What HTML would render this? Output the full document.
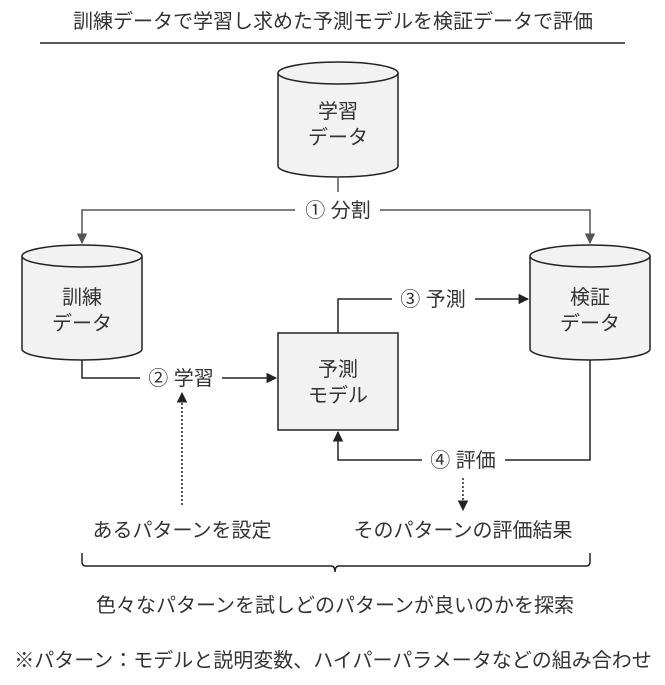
<!DOCTYPE html>
<html><head><meta charset="utf-8"><style>
html,body{margin:0;padding:0;background:#fff;}
svg{display:block;}
text{font-family:"Liberation Sans","Noto Sans CJK JP",sans-serif;fill:#333;}
</style></head><body>
<svg width="665" height="685" viewBox="0 0 665 685" xmlns="http://www.w3.org/2000/svg">
<defs>
<marker id="a" viewBox="0 0 10 10" refX="9" refY="5" markerWidth="7" markerHeight="7" orient="auto"><path d="M0,0L10,5L0,10z" fill="#222"/></marker>
<marker id="g" viewBox="0 0 10 10" refX="9" refY="5" markerWidth="7" markerHeight="7" orient="auto"><path d="M0,0L10,5L0,10z" fill="#555"/></marker>
</defs>
<text x="333" y="28" font-size="20" text-anchor="middle">訓練データで学習し求めた予測モデルを検証データで評価</text>
<line x1="40" y1="43" x2="625" y2="43" stroke="#222" stroke-width="1.5"/>

<g stroke="#222" stroke-width="1.5" fill="#f2f2f2">
<path d="M278,73 L278,166 A60,11 0 0 0 398,166 L398,73"/>
<ellipse cx="338" cy="73" rx="60" ry="11"/>
<path d="M22,256 L22,349 A60,11 0 0 0 142,349 L142,256"/>
<ellipse cx="82" cy="256" rx="60" ry="11"/>
<path d="M530,256 L530,349 A60,11 0 0 0 650,349 L650,256"/>
<ellipse cx="590" cy="256" rx="60" ry="11"/>
<rect x="278" y="333" width="120" height="97"/>
</g>
<g font-size="20" text-anchor="middle">
<text x="338" y="118">学習</text><text x="338" y="144">データ</text>
<text x="82" y="304">訓練</text><text x="82" y="330">データ</text>
<text x="590" y="304">検証</text><text x="590" y="330">データ</text>
<text x="338" y="376">予測</text><text x="338" y="402">モデル</text>
</g>

<g stroke="#555" stroke-width="1.5" fill="none">
<path d="M338,178 L338,192"/>
<path d="M295,210 L82,210 L82,243" marker-end="url(#g)"/>
<path d="M380,210 L590,210 L590,243" marker-end="url(#g)"/>
</g>
<text x="338" y="217" font-size="20" text-anchor="middle">① 分割</text>

<g stroke="#222" stroke-width="1.5" fill="none">
<path d="M338,333 L338,299 L392,299"/>
<path d="M475,299 L528,299" marker-end="url(#a)"/>
<path d="M82,360 L82,378 L140,378"/>
<path d="M222,378 L276,378" marker-end="url(#a)"/>
<path d="M590,360 L590,460 L505,460"/>
<path d="M422,460 L338,460 L338,432" marker-end="url(#a)"/>
<path d="M182,505 L182,393" stroke-dasharray="2,2" marker-end="url(#a)"/>
<path d="M463,478 L463,510" stroke-dasharray="2,2" marker-end="url(#a)"/>
<path d="M82,553 L82,562 Q82,566 86,566 L331,566 Q335,566 335,572 Q335,566 339,566 L586,566 Q590,566 590,562 L590,553"/>
</g>
<g font-size="20" text-anchor="middle">
<text x="433" y="306">③ 予測</text>
<text x="181" y="385">② 学習</text>
<text x="463" y="467">④ 評価</text>
<text x="182" y="537">あるパターンを設定</text>
<text x="463" y="537">そのパターンの評価結果</text>
<text x="335" y="612">色々なパターンを試しどのパターンが良いのかを探索</text>
<text x="333" y="667">※パターン：モデルと説明変数、ハイパーパラメータなどの組み合わせ</text>
</g>
</svg>
</body></html>
